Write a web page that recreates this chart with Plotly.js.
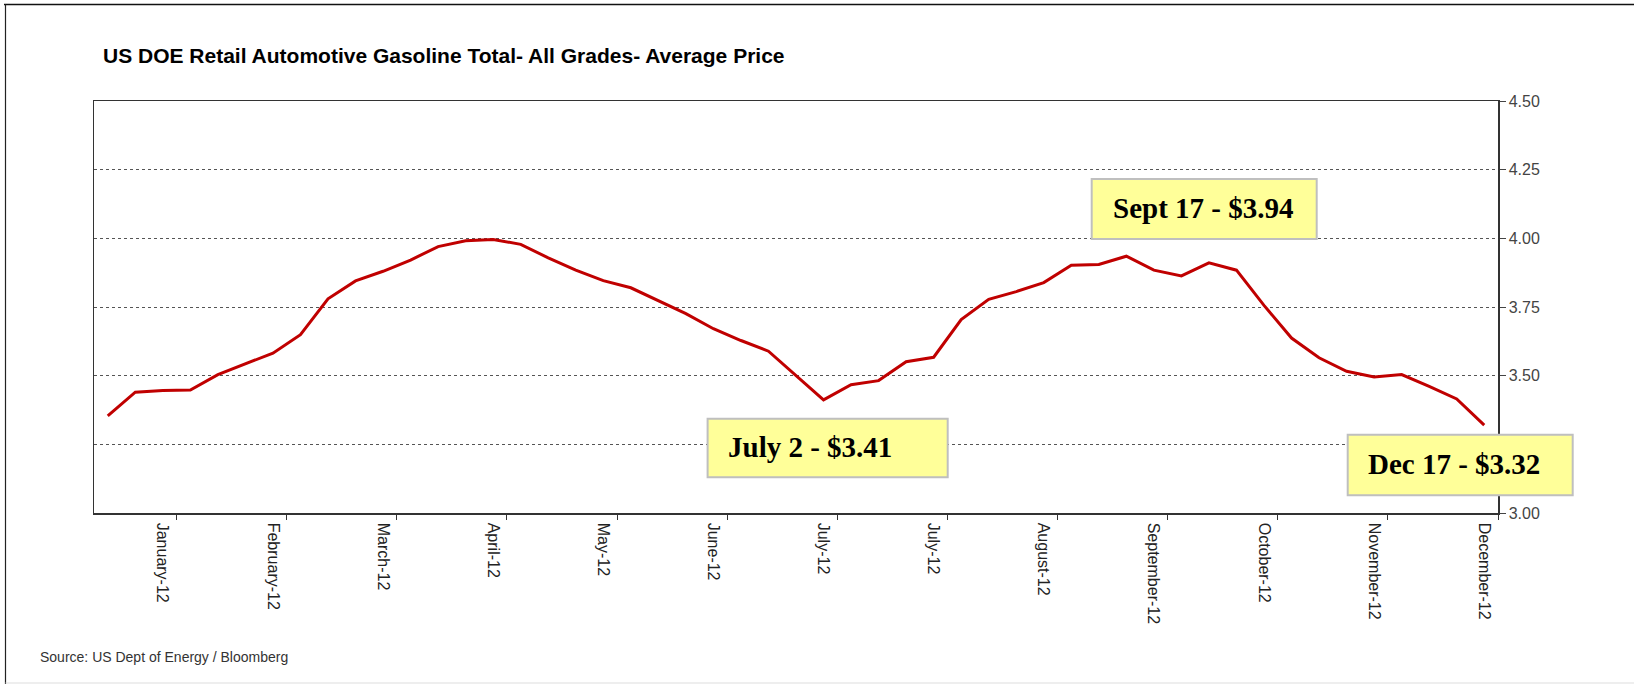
<!DOCTYPE html>
<html>
<head>
<meta charset="utf-8">
<script src="https://cdn.plot.ly/plotly-3.0.1.min.js"></script>
<style>
  html, body { margin: 0; padding: 0; background: #ffffff; }
  #chart { width: 1634px; height: 686px; }
</style>
</head>
<body>
<div id="chart"></div>
<script>
// ---- Data (weekly, 2012) ----
const weeks = [
  "2012-01-02","2012-01-09","2012-01-16","2012-01-23","2012-01-30",
  "2012-02-06","2012-02-13","2012-02-20","2012-02-27",
  "2012-03-05","2012-03-12","2012-03-19","2012-03-26",
  "2012-04-02","2012-04-09","2012-04-16","2012-04-23","2012-04-30",
  "2012-05-07","2012-05-14","2012-05-21","2012-05-28",
  "2012-06-04","2012-06-11","2012-06-18","2012-06-25",
  "2012-07-02","2012-07-09","2012-07-16","2012-07-23","2012-07-30",
  "2012-08-06","2012-08-13","2012-08-20","2012-08-27",
  "2012-09-03","2012-09-10","2012-09-17","2012-09-24",
  "2012-10-01","2012-10-08","2012-10-15","2012-10-22","2012-10-29",
  "2012-11-05","2012-11-12","2012-11-19","2012-11-26",
  "2012-12-03","2012-12-10","2012-12-17"
];
const prices = [
  3.354, 3.440, 3.446, 3.448, 3.504,
  3.543, 3.582, 3.649, 3.780,
  3.845, 3.880, 3.921, 3.970,
  3.991, 3.996, 3.978, 3.929, 3.884,
  3.846, 3.820, 3.774, 3.726,
  3.671, 3.628, 3.589, 3.500,
  3.412, 3.467, 3.482, 3.551, 3.567,
  3.704, 3.778, 3.806, 3.839,
  3.902, 3.905, 3.935, 3.884,
  3.863, 3.911, 3.884, 3.756, 3.637,
  3.565, 3.516, 3.495, 3.504,
  3.461, 3.415, 3.320
];
const tickWeeks = [
  "2012-01-16","2012-02-13","2012-03-12","2012-04-09","2012-05-07","2012-06-04",
  "2012-07-02","2012-07-30","2012-08-27","2012-09-24","2012-10-22","2012-11-19","2012-12-17"
];
const tickLabels = [
  "January-12","February-12","March-12","April-12","May-12","June-12",
  "July-12","July-12","August-12","September-12","October-12","November-12","December-12"
];
// y ticks; the 3.25 label is hidden behind the "Dec 17" callout in the original
const yTickVals = [3.00, 3.25, 3.50, 3.75, 4.00, 4.25, 4.50];
const yTickText = ["3.00", "", "3.50", "3.75", "4.00", "4.25", "4.50"];
const callouts = ["Sept 17 - $3.94", "July 2 - $3.41", "Dec 17 - $3.32"];
const titleText = "US DOE Retail Automotive Gasoline Total- All Grades- Average Price";
const sourceText = "Source: US Dept of Energy / Bloomberg";

// ---- Layout helpers ----
const W = 1634, H = 686;
const M = { l: 94, r: 136, t: 101, b: 173 };
const PW = W - M.l - M.r, PH = H - M.t - M.b;
const px = x => (x - M.l) / PW;          // pixel -> paper x
const py = y => (H - M.b - y) / PH;      // pixel -> paper y
function shiftDate(d, days) {
  const t = new Date(d + "T00:00:00Z").getTime() + days * 864e5;
  return new Date(t).toISOString().replace("T", " ").slice(0, 19);
}
const halfWeek = 3.5;

const trace = {
  type: "scatter",
  mode: "lines",
  x: weeks,
  y: prices,
  line: { color: "#C00000", width: 3 },
  hoverinfo: "x+y"
};

const boxes = [
  { x0: 1091.7, x1: 1316.7, y0: 179, y1: 239, tx: 1111.7, ty: 207.5 },
  { x0: 707.6, x1: 947.7, y0: 418.7, y1: 477.3, tx: 727, ty: 446.5 },
  { x0: 1347.7, x1: 1572.7, y0: 434.7, y1: 495.3, tx: 1367.3, ty: 463.5 }
];

const shapes = [
  // outer frame
  { type: "line", xref: "paper", yref: "paper", x0: px(4), x1: px(1634), y0: py(4.5), y1: py(4.5),
    line: { color: "#111", width: 1.5 } },
  { type: "line", xref: "paper", yref: "paper", x0: px(5.5), x1: px(5.5), y0: py(4.5), y1: py(684),
    line: { color: "#222", width: 1.2 } },
  { type: "line", xref: "paper", yref: "paper", x0: px(5.5), x1: px(1634), y0: py(683), y1: py(683),
    line: { color: "#dddddd", width: 1 } }
];
boxes.forEach(b => shapes.push({
  type: "rect", xref: "paper", yref: "paper", layer: "above",
  x0: px(b.x0), x1: px(b.x1), y0: py(b.y1), y1: py(b.y0),
  fillcolor: "#FFFF99", line: { color: "#BFBFBF", width: 2 }
}));

const annotations = boxes.map((b, i) => ({
  xref: "paper", yref: "paper", x: px(b.tx), y: py(b.ty),
  xanchor: "left", yanchor: "middle", showarrow: false, borderpad: 0,
  text: "<b>" + callouts[i] + "</b>",
  font: { family: "Liberation Serif, 'Times New Roman', serif", size: 29, color: "#000" }
}));
annotations.push({
  xref: "paper", yref: "paper", x: px(39.3), y: py(657),
  xanchor: "left", yanchor: "middle", showarrow: false, borderpad: 0,
  text: sourceText,
  font: { family: "Liberation Sans, Arial, sans-serif", size: 14, color: "#333" }
});

const layout = {
  width: W, height: H,
  margin: M,
  paper_bgcolor: "#ffffff",
  plot_bgcolor: "#ffffff",
  showlegend: false,
  title: {
    text: "<b>" + titleText + "</b>",
    xref: "container", yref: "container",
    x: 103 / W, xanchor: "left",
    y: 1 - 55.3 / H, yanchor: "middle",
    font: { family: "Liberation Sans, Arial, sans-serif", size: 21, color: "#000" }
  },
  xaxis: {
    type: "date",
    range: [shiftDate(weeks[0], -halfWeek), shiftDate(weeks[weeks.length - 1], halfWeek)],
    tickmode: "array",
    tickvals: tickWeeks.map(d => shiftDate(d, halfWeek)),
    ticktext: tickLabels,
    tickangle: 90,
    ticklabelshift: -14,
    ticks: "outside", ticklen: 5, tickwidth: 1, tickcolor: "#333",
    showgrid: false, zeroline: false,
    showline: true, linecolor: "#333", linewidth: 1.5, mirror: true,
    automargin: false,
    tickfont: { family: "Liberation Sans, Arial, sans-serif", size: 16, color: "#222" }
  },
  yaxis: {
    side: "right",
    range: [3, 4.5],
    tickmode: "array",
    tickvals: yTickVals,
    ticktext: yTickText,
    ticks: "outside", ticklen: 6, tickwidth: 1, tickcolor: "#444",
    showgrid: true, gridcolor: "#555", griddash: "dot", gridwidth: 1,
    zeroline: false,
    showline: true, linecolor: "#333", linewidth: 1.5, mirror: true,
    automargin: false,
    tickfont: { family: "Liberation Sans, Arial, sans-serif", size: 16, color: "#444" }
  },
  shapes: shapes,
  annotations: annotations
};

Plotly.newPlot("chart", [trace], layout, { displayModeBar: false, staticPlot: true });
</script>
</body>
</html>
